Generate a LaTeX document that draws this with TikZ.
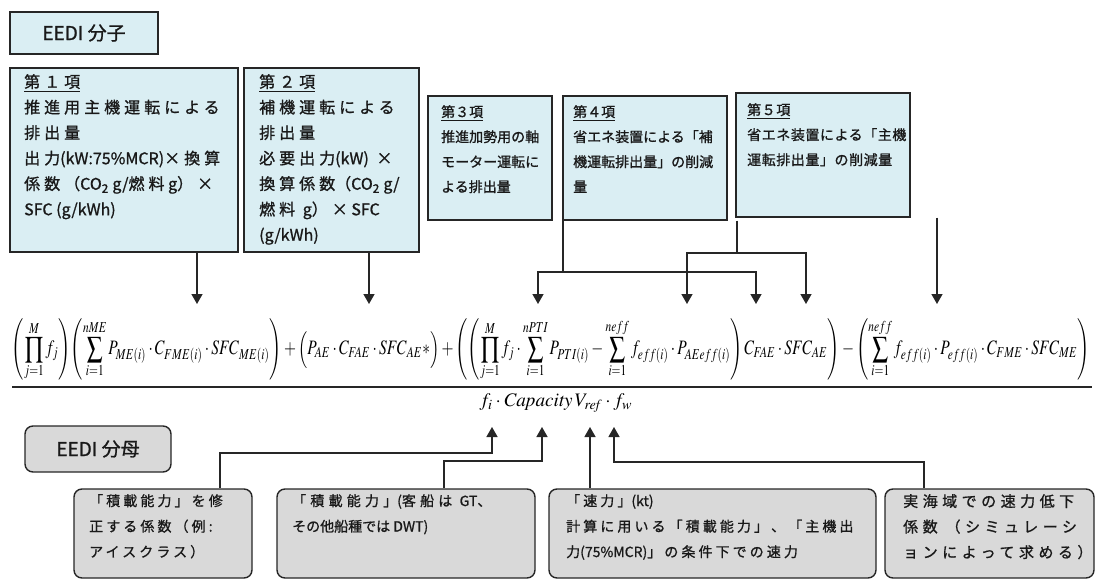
\documentclass[tikz,border=0pt]{standalone}
\usepackage{mathptmx}
\usepackage[no-math]{fontspec}
\usepackage{graphicx}
\usetikzlibrary{arrows.meta,fit}
\newfontfamily\jpn[FakeBold=1]{Noto Sans CJK JP}
\newfontfamily\jpA[LetterSpace=25,FakeBold=1]{Noto Sans CJK JP}
\newfontfamily\jpB[LetterSpace=4,FakeBold=1]{Noto Sans CJK JP}
\newfontfamily\jpC[LetterSpace=22,FakeBold=1]{Noto Sans CJK JP}
\newfontfamily\jpD[LetterSpace=30,FakeBold=1]{Noto Sans CJK JP}
\newfontfamily\jpE[LetterSpace=12,FakeBold=1]{Noto Sans CJK JP}
\newcommand\latrun[1]{{\jpn #1}}
\newcommand\fsz[2]{\fontsize{#1}{#2}\selectfont}
\definecolor{boxblue}{HTML}{DAEEF3}
\definecolor{boxgray}{HTML}{D9D9D9}
\begin{document}
\begin{tikzpicture}[x=1pt,y=-1pt,
  topbox/.style={draw=black!85, line width=1.4pt, fill=boxblue, inner sep=0pt},
  botbox/.style={draw=black!85, line width=1.4pt, fill=boxgray, rounded corners=8pt, inner sep=0pt},
  txt/.style={inner sep=0pt, align=left, text=black!90, anchor=north west},
  conn/.style={draw=black!85, line width=1.4pt},
  arr/.style={conn, -{Triangle[width=11pt,length=10pt]}},
]
\useasboundingbox (0,0) rectangle (1096,579);

% ---------- top boxes ----------
\node[topbox, fit={(10,12) (158,54)}] (b0) {};
\node[txt, anchor=center, font=\jpn\fsz{19}{22}] (t0) at (b0.center) {EEDI 分子};

\node[topbox, fit={(10,68) (238,252)}] (b1) {};
\node[txt, font=\jpA\fsz{16}{25.5}] (x1) at (24,74) {%
\underline{第１項}\\
推進用主機運転による\\
排出量\\
出力\latrun{(kW:75\%MCR)}×換算\\
係数（\latrun{CO\textsubscript{2} g/}燃料\latrun{ g}）×\\
\latrun{SFC (g/kWh)}};

\node[topbox, fit={(244,68) (419,252)}] (b2) {};
\node[txt, font=\jpA\fsz{16}{25.5}] (x2) at (259,74) {%
\underline{第２項}\\
補機運転による\\
排出量\\
必要出力\latrun{(kW)} ×\\
換算係数\latrun{（CO\textsubscript{2} g/}\\
燃料 \latrun{g}）×\latrun{ SFC}\\
\latrun{(g/kWh)}};

\node[topbox, fit={(428,96) (552,220)}] (b3) {};
\node[txt, font=\jpn\fsz{14}{25}] (x3) at (441,105) {%
\underline{第３項}\\
推進加勢用の軸\\
モーター運転に\\
よる排出量};

\node[topbox, fit={(563,96) (727,220)}] (b4) {};
\node[txt, font=\jpn\fsz{14}{25}] (x4) at (573,105) {%
\underline{第４項}\\
省エネ装置による「補\\
機運転排出量」の削減\\
量};

\node[topbox, fit={(736,93) (910,217)}] (b5) {};
\node[txt, font=\jpB\fsz{14}{25}] (x5) at (747,103) {%
\underline{第５項}\\
省エネ装置による「主機\\
運転排出量」の削減量};

% ---------- formula ----------
\node[inner sep=0pt] (num) at (551,350) {\resizebox*{1078pt}{62pt}{$\displaystyle
\left(\prod_{j=1}^{M} f_j\right)\!\left(\sum_{i=1}^{nME} P_{ME(i)}\cdot C_{FME(i)}\cdot \mathit{SFC}_{ME(i)}\right)
+\Bigl(P_{AE}\cdot C_{FAE}\cdot \mathit{SFC}_{AE}{*}\Bigr)
+\left(\left(\prod_{j=1}^{M} f_j\cdot\sum_{i=1}^{nPTI} P_{PTI(i)}-\sum_{i=1}^{neff} f_{eff(i)}\cdot P_{AEeff(i)}\right)C_{FAE}\cdot \mathit{SFC}_{AE}\right)
-\left(\sum_{i=1}^{neff} f_{eff(i)}\cdot P_{eff(i)}\cdot C_{FME}\cdot \mathit{SFC}_{ME}\right)$}};
\coordinate (fl) at (12,387);
\coordinate (fr) at (1092,387);
\draw[line width=1.5pt, black!85] (fl) -- (fr);
\node[inner sep=0pt] (den) at (556,403) {\resizebox{153pt}{!}{$f_i\cdot \mathit{Capacity}\,V_{\mathit{ref}}\cdot f_w$}};

% ---------- top connectors ----------
\coordinate (t1) at (197,304);
\coordinate (t2) at (369,304);
\coordinate (t3) at (538,304);
\coordinate (t4) at (687,304);
\coordinate (t5) at (756,304);
\coordinate (t6) at (806,304);
\coordinate (t7) at (937,304);
\coordinate (j3) at (563,272);
\coordinate (j4) at (737,253);
\draw[arr] (b1.south -| t1) -- (t1);
\draw[arr] (b2.south -| t2) -- (t2);
\draw[conn] (b3.south -| j3) -- (j3);
\draw[arr] (j3) -| (t3);
\draw[arr] (j3) -| (t5);
\draw[conn] (b4.south -| j4) -- (j4);
\draw[arr] (j4) -| (t4);
\draw[arr] (j4) -| (t6);
\draw[arr] (b5.south -| t7) -- (t7);

% ---------- bottom boxes ----------
\node[botbox, fit={(25,426) (171,472)}] (d0) {};
\node[txt, anchor=center, font=\jpn\fsz{19}{22}] (e0) at (d0.center) {EEDI 分母};

\node[botbox, fit={(74,489) (252,578)}] (bA) {};
\node[txt, font=\jpC\fsz{14}{25.5}] (xA) at (89,494) {%
「積載能力」を修\\
正する係数（例:\\
アイスクラス）};

\node[botbox, fit={(277,489) (535,578)}] (bB) {};
\node[txt, font=\jpE\fsz{14}{25.5}] (xB) at (292,494) {%
{\jpD 「積載能力」\latrun{(}客船は \latrun{GT}、}\\
{\jpn その他船種では DWT)}};

\node[botbox, fit={(549,489) (876,578)}] (bC) {};
\node[txt, font=\jpC\fsz{14}{25.5}] (xC) at (566,494) {%
「速力」\latrun{(kt)}\\
計算に用いる「積載能力」、「主機出\\
力\latrun{(75\%MCR)}」の条件下での速力};

\node[botbox, fit={(885,489) (1094,578)}] (bD) {};
\node[txt, font=\jpD\fsz{15}{25.5}] (xD) at (903,494) {%
実海域での速力低下\\
係数 （シミュレーシ\\
ョンによって求める）};

% ---------- bottom connectors ----------
\coordinate (u1) at (492,427);
\coordinate (u2) at (542,427);
\coordinate (u3) at (590,427);
\coordinate (u4) at (614,427);
\coordinate (ka) at (220,453);
\coordinate (kb) at (444,461);
\coordinate (kd) at (924,462);
\draw[arr] (bA.north -| ka) -- (ka) -| (u1);
\draw[arr] (bB.north -| kb) -- (kb) -| (u2);
\draw[arr] (bC.north -| u3) -- (u3);
\draw[arr] (bD.north -| kd) -- (kd) -| (u4);
\end{tikzpicture}
\end{document}
